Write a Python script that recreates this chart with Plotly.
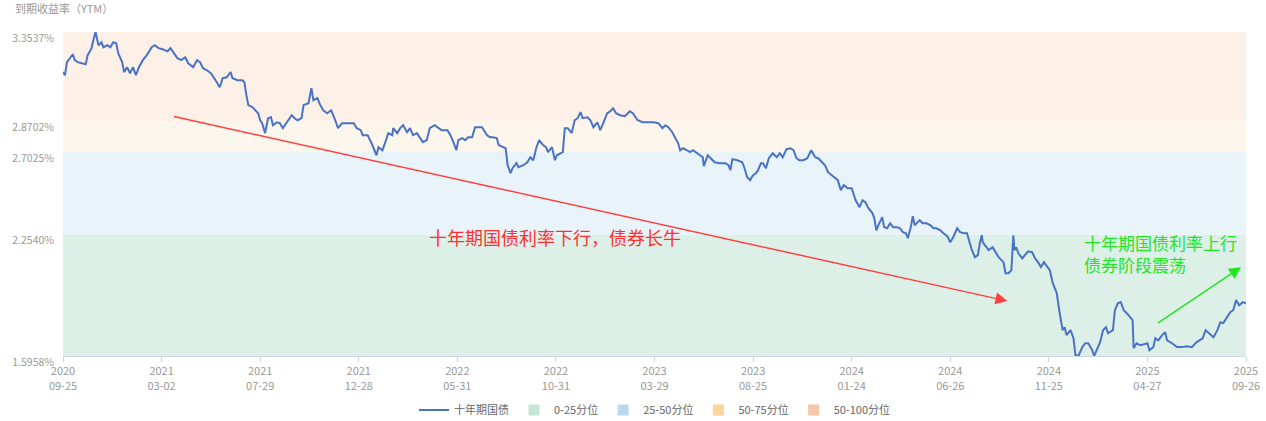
import plotly.graph_objects as go

# ---------------- data ----------------
# x: trading-day index (0 = 2020-09-25, 1200 = 2025-09-26)
trade_day_idx = [
    0, 2, 4, 10, 12, 15, 19, 23, 25, 29, 30, 33, 36, 39, 41, 45, 48, 51, 54, 56,
    60, 62, 65, 68, 71, 74, 77, 81, 85, 90, 93, 97, 101, 106, 109, 112, 116, 120, 124, 127,
    132, 136, 139, 142, 146, 150, 153, 156, 159, 162, 166, 170, 172, 177, 182, 184, 186, 188, 192, 195,
    198, 200, 202, 205, 208, 211, 213, 217, 220, 223, 227, 232, 235, 238, 242, 244, 249, 252, 254, 258,
    261, 264, 268, 272, 275, 279, 283, 287, 291, 295, 298, 302, 304, 309, 313, 318, 320, 324, 327, 330,
    334, 335, 339, 342, 345, 349, 352, 355, 359, 362, 365, 369, 372, 377, 380, 384, 390, 393, 396, 399,
    401, 405, 408, 411, 415, 418, 421, 425, 430, 433, 436, 440, 442, 446, 449, 451, 454, 456, 460, 462,
    467, 471, 474, 477, 480, 483, 487, 490, 492, 496, 499, 501, 505, 507, 509, 512, 516, 519, 522, 525,
    527, 532, 535, 538, 542, 545, 548, 552, 554, 558, 561, 565, 570, 575, 578, 583, 588, 593, 599, 604,
    608, 611, 614, 618, 621, 624, 626, 629, 633, 636, 639, 643, 646, 649, 650, 654, 657, 661, 666, 672,
    675, 677, 679, 684, 689, 691, 694, 697, 700, 703, 705, 708, 710, 713, 716, 720, 724, 727, 730, 734,
    738, 741, 744, 747, 751, 755, 759, 763, 766, 770, 773, 776, 780, 783, 786, 789, 792, 796, 800, 804,
    808, 811, 814, 817, 821, 823, 825, 827, 831, 833, 836, 839, 842, 846, 849, 852, 855, 857, 860, 862,
    864, 867, 869, 872, 876, 880, 883, 886, 890, 893, 897, 900, 903, 907, 910, 914, 917, 919, 922, 925,
    928, 930, 932, 933, 937, 939, 943, 946, 949, 954, 956, 959, 962, 964, 965, 967, 969, 973, 976, 979,
    983, 986, 989, 992, 995, 998, 1001, 1004, 1008, 1011, 1014, 1016, 1018, 1022, 1025, 1027, 1030, 1034, 1037, 1040,
    1044, 1046, 1049, 1052, 1055, 1058, 1060, 1065, 1067, 1070, 1073, 1076, 1079, 1082, 1085, 1086, 1089, 1093, 1096, 1100,
    1102, 1106, 1108, 1111, 1115, 1118, 1120, 1125, 1130, 1135, 1140, 1145, 1150, 1156, 1159, 1163, 1167, 1171, 1174, 1177,
    1181, 1184, 1187, 1190, 1193, 1197, 1200,
]
ytm = [
    3.136, 3.119, 3.190, 3.233, 3.201, 3.190, 3.184, 3.179, 3.228, 3.266, 3.293, 3.3537, 3.282, 3.298, 3.271, 3.282, 3.271, 3.298, 3.293, 3.239,
    3.190, 3.136, 3.163, 3.130, 3.163, 3.119, 3.163, 3.201, 3.228, 3.271, 3.282, 3.266, 3.260, 3.249, 3.266, 3.244, 3.212, 3.201, 3.217, 3.184,
    3.163, 3.201, 3.190, 3.157, 3.146, 3.130, 3.108, 3.081, 3.054, 3.103, 3.108, 3.136, 3.103, 3.092, 3.092, 3.081, 3.011, 2.957, 2.946, 2.929,
    2.913, 2.875, 2.859, 2.805, 2.886, 2.891, 2.848, 2.864, 2.859, 2.832, 2.864, 2.902, 2.886, 2.875, 2.886, 2.957, 2.967, 3.049, 2.984, 2.995,
    2.957, 2.929, 2.913, 2.929, 2.891, 2.832, 2.859, 2.859, 2.859, 2.859, 2.832, 2.821, 2.794, 2.794, 2.750, 2.685, 2.729, 2.712, 2.756, 2.805,
    2.794, 2.832, 2.805, 2.832, 2.848, 2.810, 2.832, 2.794, 2.805, 2.778, 2.756, 2.767, 2.832, 2.848, 2.837, 2.821, 2.821, 2.794, 2.756, 2.712,
    2.767, 2.778, 2.767, 2.783, 2.783, 2.837, 2.837, 2.837, 2.794, 2.783, 2.783, 2.778, 2.740, 2.729, 2.723, 2.631, 2.588, 2.615, 2.642, 2.620,
    2.631, 2.647, 2.674, 2.658, 2.723, 2.767, 2.740, 2.729, 2.702, 2.729, 2.658, 2.685, 2.696, 2.702, 2.832, 2.832, 2.805, 2.875, 2.886, 2.919,
    2.886, 2.891, 2.875, 2.837, 2.864, 2.821, 2.859, 2.913, 2.919, 2.940, 2.913, 2.902, 2.897, 2.924, 2.913, 2.875, 2.864, 2.864, 2.864, 2.859,
    2.832, 2.848, 2.837, 2.810, 2.783, 2.750, 2.712, 2.723, 2.712, 2.702, 2.712, 2.696, 2.685, 2.674, 2.626, 2.685, 2.669, 2.647, 2.642, 2.642,
    2.631, 2.604, 2.664, 2.658, 2.647, 2.620, 2.566, 2.550, 2.577, 2.588, 2.604, 2.642, 2.642, 2.615, 2.669, 2.696, 2.674, 2.696, 2.674, 2.718,
    2.723, 2.712, 2.669, 2.658, 2.658, 2.669, 2.712, 2.674, 2.669, 2.647, 2.631, 2.593, 2.577, 2.566, 2.550, 2.495, 2.523, 2.506, 2.506, 2.441,
    2.403, 2.441, 2.430, 2.398, 2.371, 2.343, 2.278, 2.305, 2.349, 2.295, 2.289, 2.316, 2.295, 2.295, 2.289, 2.268, 2.262, 2.235, 2.295, 2.354,
    2.305, 2.322, 2.333, 2.316, 2.316, 2.305, 2.289, 2.289, 2.278, 2.262, 2.246, 2.213, 2.240, 2.289, 2.268, 2.262, 2.262, 2.224, 2.170, 2.132,
    2.143, 2.208, 2.251, 2.213, 2.186, 2.170, 2.186, 2.159, 2.132, 2.105, 2.045, 2.045, 2.061, 2.251, 2.170, 2.186, 2.154, 2.126, 2.143, 2.164,
    2.159, 2.126, 2.105, 2.078, 2.105, 2.083, 2.061, 1.991, 1.937, 1.828, 1.736, 1.752, 1.709, 1.736, 1.692, 1.600, 1.5958, 1.644, 1.665, 1.665,
    1.627, 1.5958, 1.638, 1.671, 1.736, 1.752, 1.719, 1.736, 1.844, 1.882, 1.888, 1.844, 1.828, 1.806, 1.790, 1.638, 1.665, 1.654, 1.660, 1.665,
    1.627, 1.644, 1.692, 1.681, 1.709, 1.725, 1.681, 1.665, 1.644, 1.644, 1.649, 1.644, 1.671, 1.692, 1.736, 1.719, 1.698, 1.736, 1.779, 1.774,
    1.806, 1.833, 1.844, 1.899, 1.871, 1.888, 1.882,
]

tick_idx = [0, 100, 200, 300, 400, 500, 600, 700, 800, 900, 1000, 1100, 1200]
tick_labels = [
    "2020<br>09-25", "2021<br>03-02", "2021<br>07-29", "2021<br>12-28",
    "2022<br>05-31", "2022<br>10-31", "2023<br>03-29", "2023<br>08-25",
    "2024<br>01-24", "2024<br>06-26", "2024<br>11-25", "2025<br>04-27",
    "2025<br>09-26",
]

band_edges = [1.5958, 2.2540, 2.7025, 2.8702, 3.3537]
band_names = ["0-25分位", "25-50分位", "50-75分位", "50-100分位"]
band_fill = ["#ddf0e8", "#e8f3fa", "#fdf6ec", "#fdf0e7"]
band_legend = ["#c6e6d5", "#bdd7ef", "#fbd59b", "#f8c6aa"]

series_name = "十年期国债"
line_color = "#4a72c6"

# annotation anchors (data space)
red_arrow = dict(tail=(111, 2.897), head=(958, 1.894))
red_text = dict(x=499, y=2.241, text="十年期国债利率下行，债券长牛")
green_arrow = dict(tail=(1109, 1.769), head=(1195, 2.078))
green_text = dict(x=1034, y=2.153, text="十年期国债利率上行<br>债券阶段震荡")

FONT = "Noto Sans CJK SC, Noto Sans, sans-serif"

# ---------------- figure ----------------
fig = go.Figure()

fig.add_trace(go.Scatter(
    x=trade_day_idx, y=ytm, mode="lines", name=series_name,
    line=dict(color=line_color, width=2), hoverinfo="x+y",
))

for name, col in zip(band_names, band_legend):
    fig.add_trace(go.Scatter(
        x=[None], y=[None], mode="markers", name=name,
        marker=dict(symbol="square", size=11, color=col),
    ))

shapes = []
for i in range(4):
    shapes.append(dict(
        type="rect", xref="x", yref="y",
        x0=tick_idx[0], x1=tick_idx[-1], y0=band_edges[i], y1=band_edges[i + 1],
        fillcolor=band_fill[i], line=dict(width=0), layer="below",
    ))

annotations = [
    dict(x=red_arrow["head"][0], y=red_arrow["head"][1],
         ax=red_arrow["tail"][0], ay=red_arrow["tail"][1],
         xref="x", yref="y", axref="x", ayref="y", text="",
         showarrow=True, arrowhead=2, arrowsize=1.6, arrowwidth=1.5,
         arrowcolor="#ff4040"),
    dict(x=green_arrow["head"][0], y=green_arrow["head"][1],
         ax=green_arrow["tail"][0], ay=green_arrow["tail"][1],
         xref="x", yref="y", axref="x", ayref="y", text="",
         showarrow=True, arrowhead=2, arrowsize=1.6, arrowwidth=1.5,
         arrowcolor="#22e622"),
    dict(x=red_text["x"], y=red_text["y"], xref="x", yref="y",
         text=red_text["text"], showarrow=False,
         font=dict(family=FONT, size=18, color="#ff3030")),
    dict(x=green_text["x"], y=green_text["y"], xref="x", yref="y",
         text=green_text["text"], showarrow=False, xanchor="left",
         align="left",
         font=dict(family=FONT, size=17, color="#22e622")),
]

fig.update_layout(
    width=1266, height=421,
    margin=dict(l=63, r=20, t=32, b=65, autoexpand=False),
    paper_bgcolor="white", plot_bgcolor="white",
    font=dict(family=FONT, size=11, color="#999999"),
    title=dict(text="到期收益率（YTM）", x=15 / 1266, xanchor="left",
               y=1 - 9 / 421, yanchor="middle",
               font=dict(family=FONT, size=11, color="#999999")),
    showlegend=True,
    legend=dict(orientation="h", x=0.5, xanchor="center", y=-0.1665,
                yanchor="middle", font=dict(family=FONT, size=11, color="#666666"),
                itemwidth=30, tracegroupgap=0),
    shapes=shapes,
    annotations=annotations,
    hovermode="x",
)

fig.update_xaxes(
    range=[tick_idx[0], tick_idx[-1]], tickvals=tick_idx, ticktext=tick_labels,
    showgrid=False, zeroline=False, showline=True, linecolor="#ccd6eb",
    ticks="outside", ticklen=5, tickcolor="#ccd6eb", automargin=False,
    tickfont=dict(family=FONT, size=11, color="#999999"),
)
fig.update_yaxes(
    range=[band_edges[0], band_edges[-1]], tickvals=band_edges,
    ticktext=[f"{v:.4f}%" for v in band_edges],
    showgrid=False, zeroline=False, showline=False, ticks="",
    ticklabelshift=6, ticklabelstandoff=8, automargin=False,
    tickfont=dict(family=FONT, size=10.5, color="#999999"),
)

# remove the browser's default 8px page margin so the figure sits at (0, 0)
fig.write_html(
    "out.html",
    config={"displayModeBar": False},
    post_script="document.body.style.margin='0';document.body.style.overflow='hidden';",
)
